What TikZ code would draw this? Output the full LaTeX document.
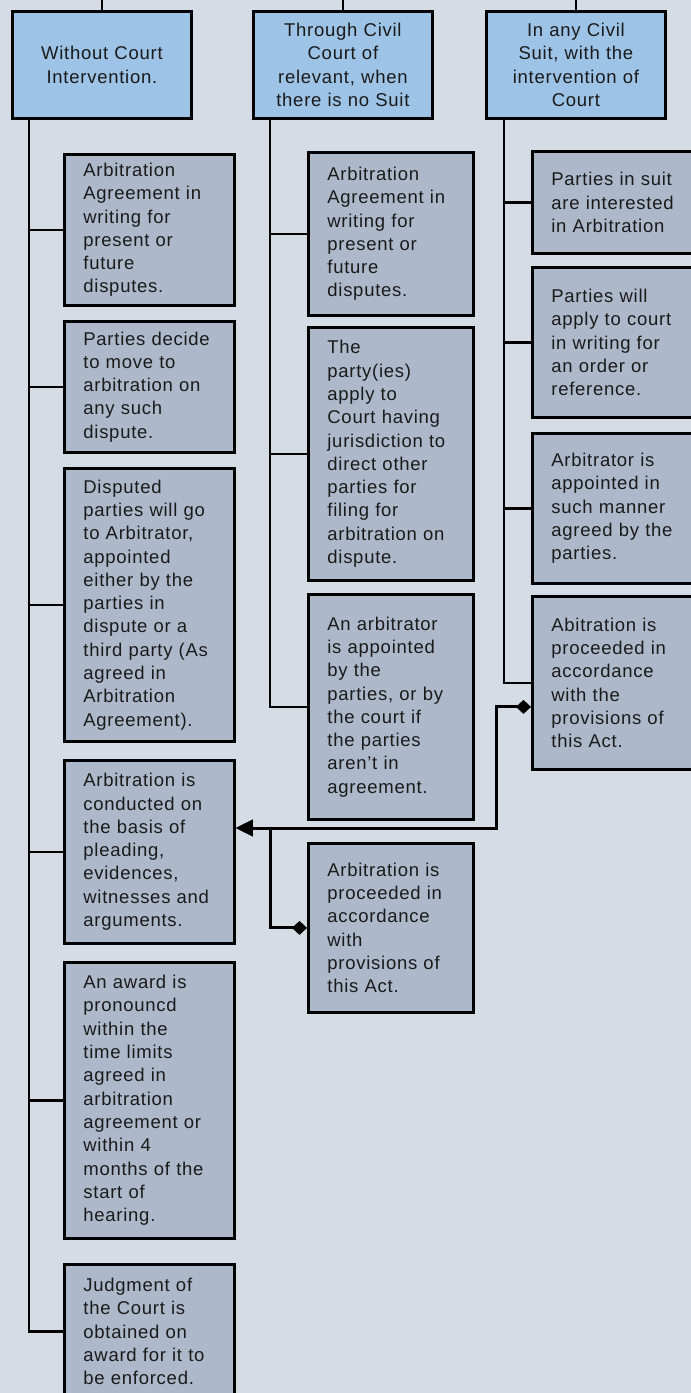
\documentclass[tikz,border=0pt]{standalone}
\usepackage{fontspec}
\setmainfont{Liberation Sans}[LetterSpace=4]
\usetikzlibrary{arrows.meta}
\definecolor{bg}{HTML}{D6DCE5}
\definecolor{hdrblue}{HTML}{9DC3E6}
\definecolor{boxgrey}{HTML}{ADB9CA}
\definecolor{ink}{HTML}{1A1A1A}
\begin{document}
\begin{tikzpicture}[x=1pt,y=-1pt,
  txt/.style={font=\fontsize{18.5pt}{23.3pt}\selectfont, text=ink},
  card/.style={txt, draw=black, line width=2.8pt, anchor=north west, inner ysep=0pt, inner xsep=19pt, align=left},
  hdr/.style={card, fill=hdrblue, text width=159pt, inner xsep=10pt, minimum height=107pt, align=center},
  colA/.style={card, fill=boxgrey, text width=132pt},
  colB/.style={card, fill=boxgrey, text width=127pt},
  colC/.style={card, fill=boxgrey, text width=132pt},
  link/.style={draw=black, line width=2.4pt},
  flow/.style={draw=black, line width=3pt, line join=miter, {Diamond[length=15pt,width=14pt]}-{Triangle[length=17pt,width=16pt]}}
]
\fill[bg] (0,0) rectangle (691,1393);
\useasboundingbox (0,0) rectangle (691,1393);
\clip (0,0) rectangle (691,1393);
\coordinate (top) at (0,0);

% headers
\node[hdr] (H1) at (11,10) {Without Court\\Intervention.};
\node[hdr] (H2) at (252,10) {Through Civil\\Court of\\relevant, when\\there is no Suit};
\node[hdr] (H3) at (485,10) {In any Civil\\Suit, with the\\intervention of\\Court};

% column 1
\node[colA, minimum height=151pt] (B1) at (63,153) {Arbitration\\Agreement in\\writing for\\present or\\future\\disputes.};
\node[colA, minimum height=131pt] (B2) at (63,320) {Parties decide\\to move to\\arbitration on\\any such\\dispute.};
\node[colA, minimum height=273pt] (B3) at (63,467) {Disputed\\parties will go\\to Arbitrator,\\appointed\\either by the\\parties in\\dispute or a\\third party (As\\agreed in\\Arbitration\\Agreement).};
\node[colA, minimum height=183pt] (B4) at (63,759) {Arbitration is\\conducted on\\the basis of\\pleading,\\evidences,\\witnesses and\\arguments.};
\node[colA, minimum height=276pt] (B5) at (63,961) {An award is\\pronouncd\\within the\\time limits\\agreed in\\arbitration\\agreement or\\within 4\\months of the\\start of\\hearing.};
\node[colA, minimum height=134pt] (B6) at (63,1263) {Judgment of\\the Court is\\obtained on\\award for it to\\be enforced.};

% column 2
\node[colB, minimum height=163pt] (C1) at (307,151) {Arbitration\\Agreement in\\writing for\\present or\\future\\disputes.};
\node[colB, minimum height=253pt] (C2) at (307,326) {The\\party(ies)\\apply to\\Court having\\jurisdiction to\\direct other\\parties for\\filing for\\arbitration on\\dispute.};
\node[colB, minimum height=225pt] (C3) at (307,593) {An arbitrator\\is appointed\\by the\\parties, or by\\the court if\\the parties\\aren't in\\agreement.};
\node[colB, minimum height=169pt] (C4) at (307,842) {Arbitration is\\proceeded in\\accordance\\with\\provisions of\\this Act.};

% column 3
\node[colC, minimum height=102pt] (D1) at (531,150) {Parties in suit\\are interested\\in Arbitration};
\node[colC, minimum height=150pt] (D2) at (531,266) {Parties will\\apply to court\\in writing for\\an order or\\reference.};
\node[colC, minimum height=150pt] (D3) at (531,432) {Arbitrator is\\appointed in\\such manner\\agreed by the\\parties.};
\node[colC, minimum height=173pt] (D4) at (531,595) {Abitration is\\proceeded in\\accordance\\with the\\provisions of\\this Act.};

% lines from above
\draw[link] (H1.north) -- (H1.north |- top);
\draw[link] (H2.north) -- (H2.north |- top);
\draw[link] (H3.north) -- (H3.north |- top);

% trunks
\coordinate (T1) at ([xshift=18pt]H1.south west);
\coordinate (T2) at ([xshift=18pt]H2.south west);
\coordinate (T3) at ([xshift=19pt]H3.south west);
\foreach \b in {B1,B2,B3,B4,B5,B6} \draw[link] (T1) |- (\b.west);
\foreach \b in {C1,C2,C3} \draw[link] (T2) |- (\b.west);
\foreach \b in {D1,D2,D3,D4} \draw[link] (T3) |- (\b.west);

% flows into B4
\coordinate (J1) at (496,828);
\coordinate (J2) at ([xshift=18pt]H2.south west |- J1);
\path[flow] ([yshift=-24pt]D4.west) -| (J1) -- (J1 -| B4.east);
\path[flow] (C4.west) -| (J2) -- (J2 -| B4.east);
\end{tikzpicture}
\end{document}
